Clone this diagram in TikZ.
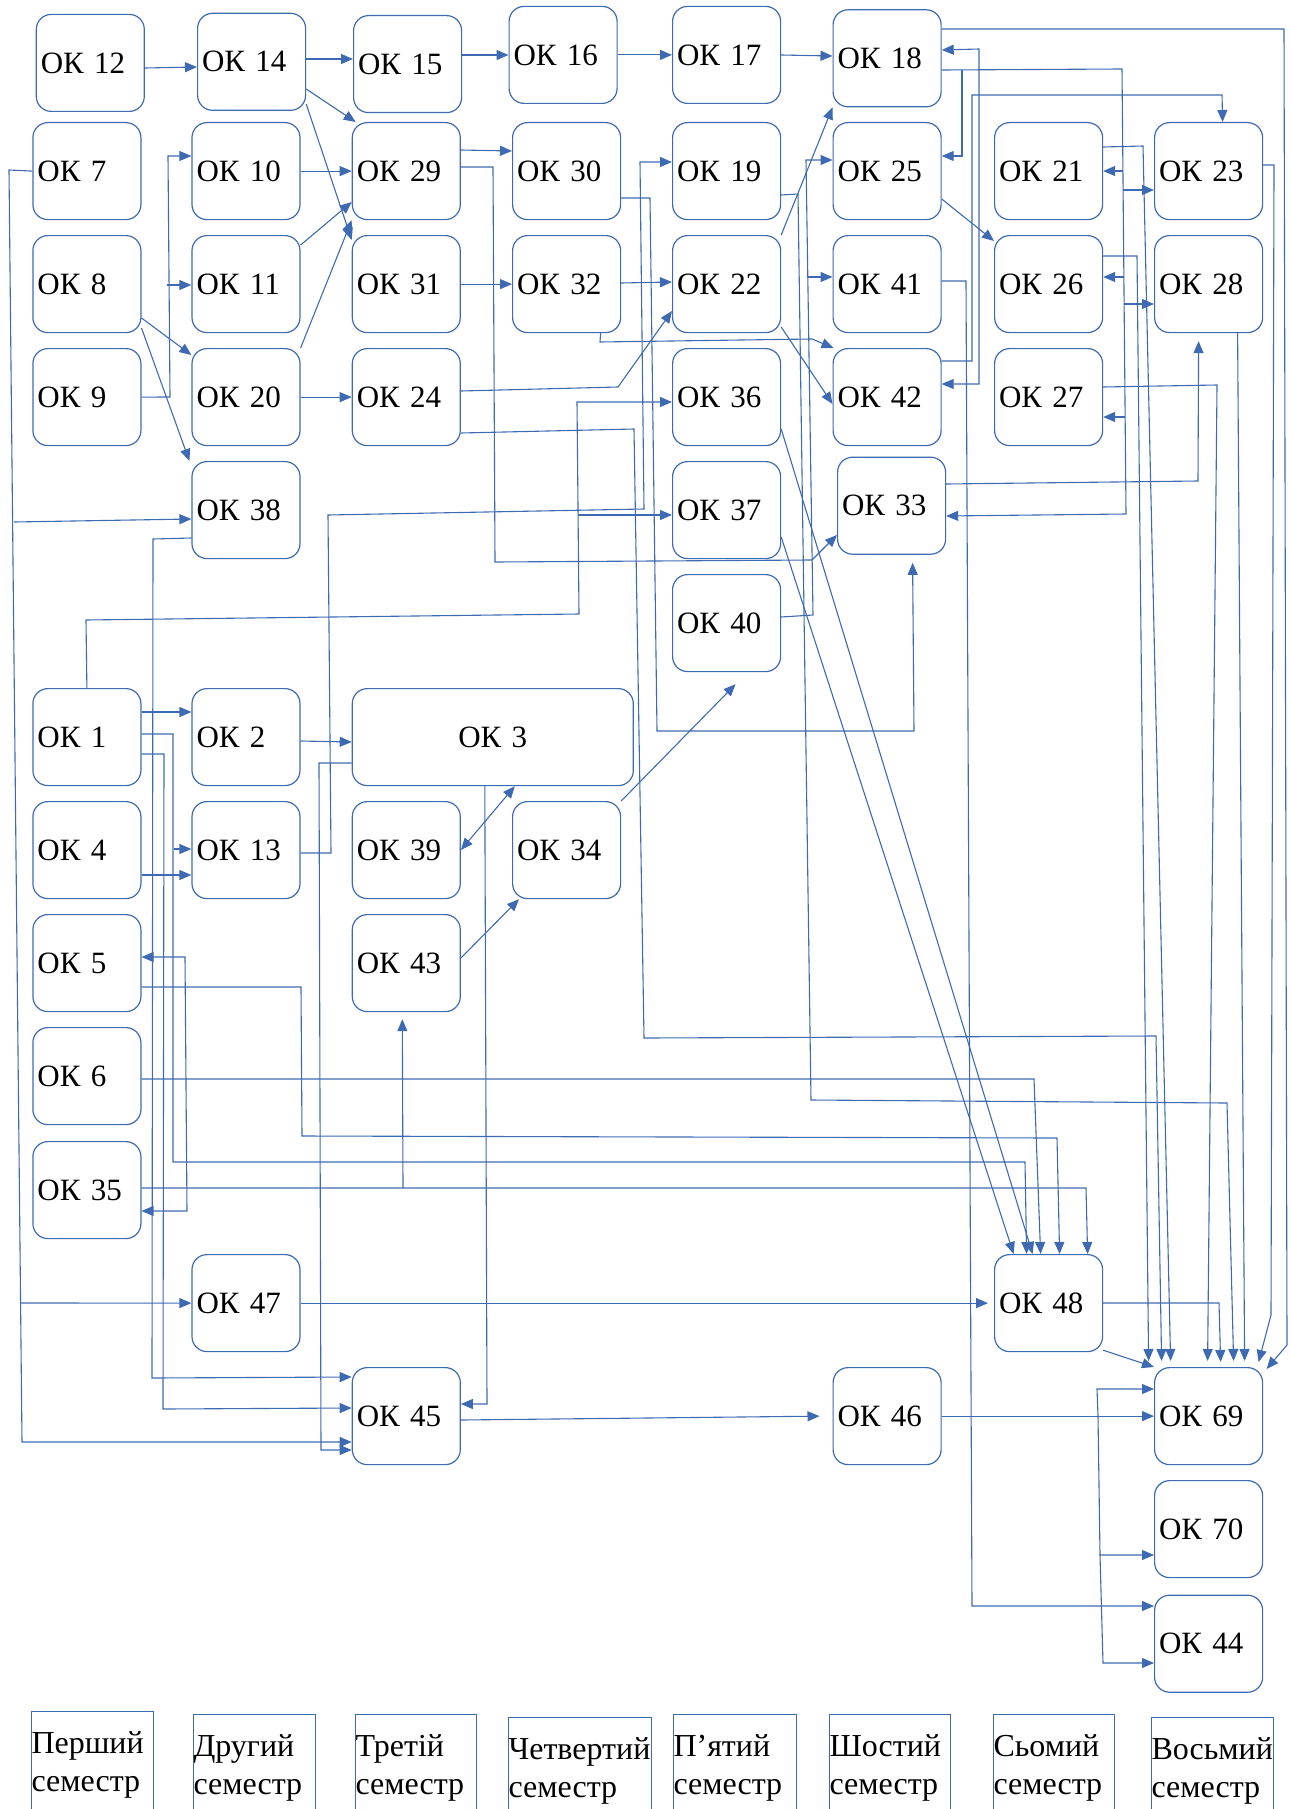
\documentclass[tikz,border=0pt]{standalone}
\usepackage{fontspec}
\setmainfont{Liberation Serif}
\usetikzlibrary{arrows.meta,calc}
\definecolor{lc}{RGB}{61,106,178}
\begin{document}
\begin{tikzpicture}[x=1pt,y=-1pt,
  ok/.style={draw=lc, line width=1.2pt, rounded corners=15pt, minimum width=108pt, minimum height=97pt,
    text width=99pt, inner xsep=4.5pt, inner ysep=0pt, align=left, anchor=north west,
    font=\fontsize{31}{37}\selectfont},
  sem/.style={draw=lc, line width=1pt, anchor=north west, minimum height=106pt, inner sep=0pt,
    align=left, font=\fontsize{32}{38}\selectfont},
  ln/.style={draw=lc, line width=1.1pt},
  ar/.style={ln, -{Triangle[length=12pt,width=10pt]}},
  ar2/.style={ln, {Triangle[length=12pt,width=10pt]}-{Triangle[length=12pt,width=10pt]}}]
\useasboundingbox (0,0) rectangle (1290,1809);
\clip (0,0) rectangle (1290,1809);
% ---------- row 1
\node[ok] (ok12) at (35.7,13.8) {ОК 12};
\node[ok] (ok14) at (197,12.7) {ОК 14};
\node[ok] (ok15) at (353,15) {ОК 15};
\node[ok] (ok16) at (508.5,5.8) {ОК 16};
\node[ok] (ok17) at (672,5.8) {ОК 17};
\node[ok] (ok18) at (832.5,9.2) {ОК 18};
% ---------- row 2
\node[ok] (ok7) at (32.3,122) {ОК 7};
\node[ok] (ok10) at (191.4,122) {ОК 10};
\node[ok] (ok29) at (351.7,122) {ОК 29};
\node[ok] (ok30) at (512,122) {ОК 30};
\node[ok] (ok19) at (672,122) {ОК 19};
\node[ok] (ok25) at (832.5,122) {ОК 25};
\node[ok] (ok21) at (994,122) {ОК 21};
\node[ok] (ok23) at (1154,122) {ОК 23};
% ---------- row 3
\node[ok] (ok8) at (32.3,235) {ОК 8};
\node[ok] (ok11) at (191.4,235) {ОК 11};
\node[ok] (ok31) at (351.7,235) {ОК 31};
\node[ok] (ok32) at (512,235) {ОК 32};
\node[ok] (ok22) at (672,235) {ОК 22};
\node[ok] (ok41) at (832.5,235) {ОК 41};
\node[ok] (ok26) at (994,235) {ОК 26};
\node[ok] (ok28) at (1154,235) {ОК 28};
% ---------- row 4
\node[ok] (ok9) at (32.3,348) {ОК 9};
\node[ok] (ok20) at (191.4,348) {ОК 20};
\node[ok] (ok24) at (351.7,348) {ОК 24};
\node[ok] (ok36) at (672,348) {ОК 36};
\node[ok] (ok42) at (832.5,348) {ОК 42};
\node[ok] (ok27) at (994,348) {ОК 27};
% ---------- rows 5-6
\node[ok] (ok38) at (191.4,461) {ОК 38};
\node[ok] (ok37) at (672,461) {ОК 37};
\node[ok] (ok33) at (837,456.6) {ОК 33};
\node[ok] (ok40) at (672,574) {ОК 40};
% ---------- rows 7-15
\node[ok] (ok1) at (32.3,688) {ОК 1};
\node[ok] (ok2) at (191.4,688) {ОК 2};
\node[ok, minimum width=281pt, text width=272pt, align=center] (ok3) at (351.7,688) {ОК 3};
\node[ok] (ok4) at (32.3,801) {ОК 4};
\node[ok] (ok13) at (191.4,801) {ОК 13};
\node[ok] (ok39) at (351.7,801) {ОК 39};
\node[ok] (ok34) at (512,801) {ОК 34};
\node[ok] (ok5) at (32.3,914) {ОК 5};
\node[ok] (ok43) at (351.7,914) {ОК 43};
\node[ok] (ok6) at (32.3,1027) {ОК 6};
\node[ok] (ok35) at (32.3,1141) {ОК 35};
\node[ok] (ok47) at (191.4,1254) {ОК 47};
\node[ok] (ok48) at (994,1254) {ОК 48};
\node[ok] (ok45) at (351.7,1367) {ОК 45};
\node[ok] (ok46) at (832.5,1367) {ОК 46};
\node[ok] (ok69) at (1154,1367) {ОК 69};
\node[ok] (ok70) at (1154,1480) {ОК 70};
\node[ok] (ok44) at (1154,1594.6) {ОК 44};
% ---------- semester labels
\node[sem, text width=122pt] (s1) at (31,1711) {Перший\\семестр};
\node[sem, text width=122pt] (s2) at (193,1714) {Другий\\семестр};
\node[sem, text width=121pt] (s3) at (355,1714) {Третій\\семестр};
\node[sem, text width=143pt] (s4) at (508,1717) {Четвертий\\семестр};
\node[sem, text width=123pt] (s5) at (673,1714) {П’ятий\\семестр};
\node[sem, text width=121pt] (s6) at (829,1714) {Шостий\\семестр};
\node[sem, text width=121pt] (s7) at (993,1714) {Сьомий\\семестр};
\node[sem, text width=122pt] (s8) at (1151,1717) {Восьмий\\семестр};
% ---------- connectors: top rows
\draw[ar] (ok12.east |- 0,68) -- (ok14.west |- 0,67);
\draw[ar] (ok14.east |- 0,59) -- (ok15.west |- 0,59);
\draw[ar] (ok15.east |- 0,55) -- (ok16.west |- 0,55);
\draw[ar] (ok16.east) -- (ok17.west);
\draw[ar] (ok17.east |- 0,55) -- (ok18.west |- 0,56);
\draw[ar] (ok14.east |- 0,89) -- ([xshift=4pt]ok29.north west);
\draw[ar] (ok14.east |- 0,104) -- ([yshift=-5pt]ok31.north west);
\draw[ar] (ok10.east) -- (ok29.west);
\draw[ar] (ok9.east) -- (170,397) -- (168,156) -- (ok10.west |- 0,156);
\coordinate (b9) at (167,285);
\draw[ar] (b9) -- (ok11.west |- 0,285);
\draw[ar] (ok8.east |- 0,318) -- ([yshift=-7pt]ok20.north west);
\draw[ar] (ok8.east |- 0,328) -- ([xshift=-2pt]ok38.north west);
\draw[ar] (ok11.east |- 0,245) -- (ok29.west |- 0,202);
\draw[ar] (ok20.east |- 0,348) -- (ok29.south west);
\draw[ar] (ok20.east) -- (ok24.west);
\draw[ar] (ok29.east |- 0,150) -- (ok30.west |- 0,151);
\draw[ar] (ok29.east |- 0,167) -- (493,167) -- (495,562) -- (812,560) -- (ok33.west |- 0,535);
\draw[ar] (ok30.east |- 0,198) -- (650,198) -- (657,731) -- (914,731) -- ([xshift=21pt,yshift=-8pt]ok33.south);
\draw[ar] (ok31.east) -- (ok32.west);
\draw[ar] (ok32.east |- 0,283) -- (ok22.west |- 0,282);
\draw[ar] ([xshift=34pt]ok32.south) -- (600,342) -- (812,339) -- ([xshift=1pt]ok42.north west);
\draw[ar] (ok24.east |- 0,391) -- (618,387) -- (ok22.west |- 0,311);
\draw[ar] (ok24.east |- 0,433) -- (634,429) -- (644,1038) -- (1156,1036) -- ([xshift=-47pt,yshift=6pt]ok69.north);
\draw[ar] (ok22.north east) -- (ok18.south west);
\draw[ar] (ok22.east |- 0,327) -- (ok42.west |- 0,404);
\draw[ar] (ok19.east |- 0,195) -- (798,194) -- (811,1100) -- (1227,1103) -- ([xshift=25pt,yshift=6pt]ok69.north);
\draw[ar] (ok13.east |- 0,853) -- (331,853) -- (328,515) -- (644,509) -- (640,162) -- (ok19.west |- 0,162);
\draw[ar] (ok1.north) -- (86,620) -- (579,614) -- (577,402) -- (ok36.west |- 0,402);
\coordinate (b1) at (578,515);
\draw[ar] (b1) -- (ok37.west |- 0,515);
\draw[ar] (ok40.east |- 0,617) -- (813,615) -- (806,160) -- (ok25.west |- 0,160);
\coordinate (b40) at (807,277);
\draw[ar] (b40) -- (ok41.west |- 0,277);
\draw[ar] (ok36.east |- 0,429) -- ([xshift=-16pt]ok48.north);
\draw[ar] (ok37.east |- 0,537) -- ([xshift=-35pt]ok48.north);
\draw[ar] (ok41.east |- 0,281) -- (966,281) -- (972,1606) -- (ok44.west |- 0,1606);
\draw[ar] (ok42.east |- 0,361) -- (972,361) -- (972,95) -- (1222,95) -- ([xshift=14pt]ok23.north);
\draw[ar2] (ok18.east |- 0,50) -- (979,49) -- (979,384) -- (ok42.east |- 0,384);
% OK18 distribution line
\draw[ar] (ok18.east |- 0,70) -- (1122,69) -- (1126,514) -- (ok33.east |- 0,516);
\coordinate (b18a) at (962,70);
\draw[ar] (b18a) -- (962,156) -- (ok25.east |- 0,156);
\coordinate (b18b) at (1123,171);
\draw[ar] (b18b) -- (ok21.east |- 0,171);
\coordinate (b18c) at (1124,277);
\draw[ar] (b18c) -- (ok26.east |- 0,277);
\coordinate (b18d) at (1125,417);
\draw[ar] (b18d) -- (ok27.east |- 0,417);
\coordinate (b18e) at (1123,190);
\draw[ar] (b18e) -- (ok23.west |- 0,190);
\coordinate (b18f) at (1124,304);
\draw[ar] (b18f) -- (ok28.west |- 0,304);
\draw[ar] (ok25.east |- 0,199) -- ([yshift=-6pt]ok26.north west);
% lines into OK69
\draw[ar] (ok21.east |- 0,147) -- (1143,146) -- ([xshift=-38pt,yshift=6pt]ok69.north);
\draw[ar] (ok26.east |- 0,256) -- (1137,256) -- ([xshift=-60pt,yshift=6pt]ok69.north);
\draw[ar] (ok27.east |- 0,387) -- (1217,385) -- ([xshift=-1pt,yshift=6pt]ok69.north);
\draw[ar] ([xshift=29pt]ok28.south) -- ([xshift=36pt,yshift=6pt]ok69.north);
\draw[ar] (ok23.east |- 0,165) -- (1274,165) -- (1271,1315) -- ([xshift=50pt,yshift=5pt]ok69.north);
\draw[ar] (ok18.east |- 0,29) -- (1284,29) -- (1287,1345) -- ([xshift=58pt,yshift=-2pt]ok69.north);
\draw[ar] (ok33.east |- 0,484) -- (1198,481) -- ([xshift=-10pt,yshift=-8pt]ok28.south);
\draw[ar] (ok48.east |- 0,1303) -- (1219,1303) -- ([xshift=12pt,yshift=5pt]ok69.north);
\draw[ar] ([yshift=2pt]ok48.south east) -- (ok69.north west);
\draw[ar] (ok47.east) -- ([xshift=-6pt]ok48.west);
\draw[ar, shorten >=13pt] (ok45.east |- 0,1420) -- (ok46.west |- 0,1416);
\draw[ar] (ok46.east) -- (ok69.west);
\coordinate (b46) at (1098,1416);
\draw[ar] (b46) -- (1097,1389) -- (ok69.west |- 0,1389);
\draw[ar] (b46) -- (1100,1555) -- (ok70.west |- 0,1555);
\coordinate (b46b) at (1100,1555);
\draw[ar] (b46b) -- (1103,1663) -- (ok44.west |- 0,1663);
% left side
\draw[ar] (ok7.west) -- (9,170) -- (22,1442) -- (ok45.west |- 0,1442);
\coordinate (b7a) at (14,522);
\draw[ar] (b7a) -- (ok38.west |- 0,519);
\coordinate (b7b) at (21,1303);
\draw[ar] (b7b) -- (ok47.west);
\draw[ar] (ok38.west |- 0,538) -- (153,539) -- (152,1378) -- (ok45.west |- 0,1377);
\draw[ar] (ok1.east |- 0,712) -- (ok2.west |- 0,712);
\draw[ar] (ok1.east |- 0,734) -- (173,734) -- (173,1162) -- (1025,1162) -- ([xshift=-22pt]ok48.north);
\coordinate (b1b) at (174,849);
\draw[ar] (b1b) -- (ok13.west |- 0,849);
\draw[ar] (ok1.east |- 0,754) -- (164,754) -- (163,1409) -- (ok45.west |- 0,1408);
\draw[ar] (ok4.east |- 0,875) -- (ok13.west |- 0,875);
\draw[ar] (ok2.east |- 0,741) -- (ok3.west |- 0,742);
\draw[ar] (ok3.west |- 0,763) -- (319,763) -- (321,1450) -- (ok45.west |- 0,1450);
\draw[ar] ([xshift=-8pt]ok3.south) -- (487,1404) -- (ok45.east |- 0,1404);
\draw[ar2] (ok39.east |- 0,850) -- ([xshift=22pt]ok3.south);
\draw[ar] (ok43.east |- 0,958) -- ([xshift=7pt]ok34.south west);
\draw[ar] (ok34.north east) -- ([xshift=9pt,yshift=-12pt]ok40.south);
\draw[ar2] (ok5.east |- 0,957) -- (185,957) -- (187,1211) -- (ok35.east |- 0,1211);
\draw[ar] (ok5.east |- 0,987) -- (301,987) -- (302,1136) -- (1057,1138) -- ([xshift=11pt]ok48.north);
\draw[ar] (ok6.east |- 0,1079) -- (1034,1079) -- ([xshift=-8pt]ok48.north);
\draw[ar] (ok35.east |- 0,1188) -- (403,1188) -- ([xshift=-4pt,yshift=-7pt]ok43.south);
\coordinate (b35) at (403,1188);
\draw[ar] (b35) -- (1086,1188) -- ([xshift=39pt]ok48.north);
\end{tikzpicture}
\end{document}
